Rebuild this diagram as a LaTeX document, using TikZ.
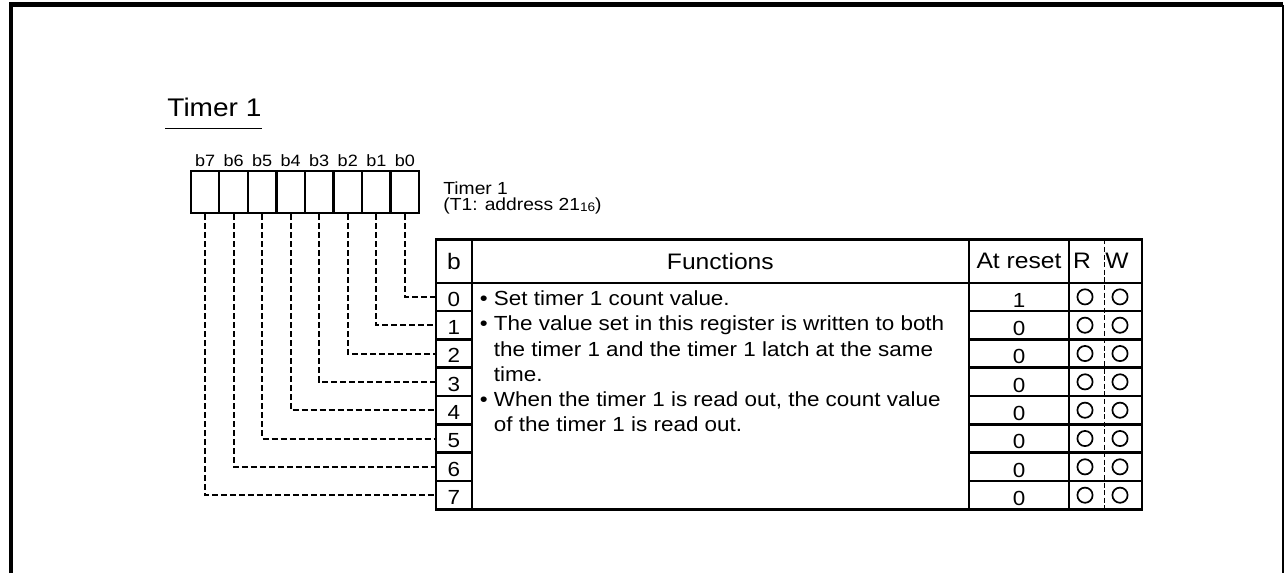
\documentclass[tikz,border=0pt]{standalone}
\usepackage{fontspec}
\setmainfont{Liberation Sans}[FakeStretch=1.1]
\usetikzlibrary{positioning,calc}
\tikzset{
  frame/.style={line width=2.2pt},
  bitcell/.style={draw, line width=1.1pt, minimum width=14.27pt, minimum height=21.15pt, inner sep=0pt},
  bitlabel/.style={font=\fontsize{8.2}{9}\selectfont, inner sep=0pt, anchor=base},
  regtext/.style={font=\fontsize{8.75}{10}\selectfont, inner sep=0pt, anchor=base west},
  cell/.style={draw, line width=1.2pt, minimum height=14.17pt, inner sep=0pt, outer sep=0pt},
  headcell/.style={cell, minimum height=21.7pt, font=\fontsize{11.2}{13}\selectfont},
  bitno/.style={cell, minimum width=17.85pt, font=\fontsize{10.2}{12}\selectfont, text height=9.3pt, text depth=0pt},
  resetval/.style={cell, minimum width=50pt, font=\fontsize{10.2}{12}\selectfont, text height=10.3pt, text depth=0pt},
  rwmark/.style={draw, circle, line width=0.85pt, minimum size=7.6pt, inner sep=0pt},
  link/.style={line width=1pt, dash pattern=on 3pt off 1.5pt},
  divider/.style={line width=0.5pt, dash pattern=on 2.5pt off 1.3pt}
}

\begin{document}
\begin{tikzpicture}[x=0.5pt, y=-0.5pt]
\useasboundingbox (0,0) rectangle (1285,573);
% frame
\draw[frame] (10.8,573) -- (10.8,4.7) -- (1283,4.7);
\draw[line width=1pt] (1283,4.7) -- (1283,573);

% heading
\node[font=\fontsize{12.75}{15}\selectfont, inner sep=0pt, anchor=base west] (title) at (167,116.7) {Timer 1};
\draw[line width=0.7pt] ([xshift=-1pt, yshift=-5.5pt]title.south west) -- ([yshift=-5.5pt]title.south east);

% register bits
\foreach \i in {0,...,7} {
  \node[bitcell] (bit\i) at ({404.85-28.54*\i},191.85) {};
  \node[bitlabel] (blabel\i) at ({404.85-28.54*\i},166.7) {b\i};
}
\node[regtext] (regname) at (443,194.3) {Timer 1};
\node[regtext] (regaddr) at (443,210.7) {(T1: address 21\raisebox{-0.3pt}{\fontsize{6.2}{6}\selectfont 16})};

% table header
\node[headcell, minimum width=17.85pt] (hb) at (453.85,261) {b};
\node[headcell, minimum width=248.65pt, right=0pt of hb] (hfunc) {Functions};
\node[headcell, minimum width=50pt, right=0pt of hfunc] (hreset) {At reset};
\node[headcell, minimum width=36.35pt, right=0pt of hreset] (hrw) {};
\node[font=\fontsize{11.2}{13}\selectfont, inner sep=0pt] (hR) at (1082,261) {R};
\node[font=\fontsize{11.2}{13}\selectfont, inner sep=0pt] (hW) at (1117,261) {W};

% table body
\node[cell, minimum width=248.65pt, minimum height=113.32pt, below=0pt of hfunc] (fbody) {};
\node[inner sep=0pt, anchor=base west, align=left, font=\fontsize{10.2}{12.6}\selectfont] (ftext) at (479.5,431.7)
  {\textbullet\ Set timer 1 count value.\\
   \textbullet\ The value set in this register is written to both\\
   \phantom{\textbullet\ }the timer 1 and the timer 1 latch at the same\\
   \phantom{\textbullet\ }time.\\
   \textbullet\ When the timer 1 is read out, the count value\\
   \phantom{\textbullet\ }of the timer 1 is read out.};

\foreach \i/\v in {0/1,1/0,2/0,3/0,4/0,5/0,6/0,7/0} {
  \node[bitno] (row\i) at (453.85,{296.87+28.33*\i}) {\i};
  \node[resetval] (reset\i) at (hreset |- row\i) {\v};
  \node[cell, minimum width=36.35pt] (rw\i) at (hrw |- row\i) {};
  \node[rwmark] (rmark\i) at (1085,{296.87+28.33*\i}) {};
  \node[rwmark] (wmark\i) at (1120,{296.87+28.33*\i}) {};
  \draw[link] (bit\i.south) |- (row\i.west);
}
\draw[divider] ([xshift=-0.68pt]hrw.north) -- ([xshift=-0.68pt]rw7.south);
\end{tikzpicture}
\end{document}
